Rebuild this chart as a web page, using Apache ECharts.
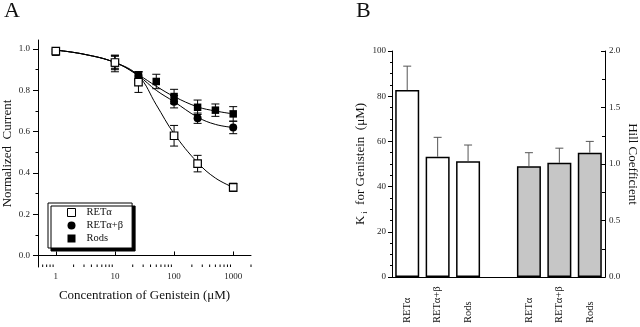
<!DOCTYPE html>
<html>
<head>
<meta charset="utf-8">
<script src="https://cdn.jsdelivr.net/npm/echarts@6/dist/echarts.min.js"></script>
<style>
  html, body { margin: 0; padding: 0; background: #fff; }
  #chart { width: 640px; height: 327px; }
</style>
</head>
<body>
<div id="chart"></div>
<script>
// ---------- Panel A: dose-response to genistein ----------
const retA_x   = [1, 10, 25, 100, 250, 1000];
const retA_y   = [0.99, 0.935, 0.84, 0.58, 0.445, 0.33];
const retA_err = [0.01, 0.035, 0.05, 0.05, 0.04, 0.02];

const retAB_x   = [1, 10, 25, 100, 250, 1000];
const retAB_y   = [0.99, 0.935, 0.87, 0.745, 0.665, 0.62];
const retAB_err = [0.01, 0.03, 0.02, 0.03, 0.025, 0.03];

const rods_x   = [1, 10, 25, 50, 100, 250, 500, 1000];
const rods_y   = [0.985, 0.93, 0.87, 0.843, 0.77, 0.718, 0.704, 0.686];
const rods_err = [0.01, 0.04, 0.02, 0.035, 0.035, 0.035, 0.03, 0.035];

// fitted Hill curves, sampled along the concentration axis
const fit_x     = [1, 3, 10, 25, 50, 100, 250, 500, 1000];
const fit_retA  = [0.995, 0.975, 0.935, 0.87, 0.73, 0.59, 0.45, 0.375, 0.33];
const fit_retAB = [0.995, 0.975, 0.935, 0.87, 0.80, 0.745, 0.67, 0.635, 0.62];
const fit_rods  = [0.995, 0.975, 0.935, 0.875, 0.82, 0.77, 0.72, 0.70, 0.686];

const concMinorTicks = [0.6, 0.7, 0.8, 0.9, 2, 3, 4, 5, 6, 7, 8, 9,
  20, 30, 40, 50, 60, 70, 80, 90, 200, 300, 400, 500, 600, 700, 800, 900, 2000];
const normTicks = [0, 0.2, 0.4, 0.6, 0.8, 1.0];
const normMinorTicks = [0.1, 0.3, 0.5, 0.7, 0.9];

// ---------- Panel B: Ki and Hill coefficients ----------
const groupLabels = ['RETα', 'RETα+β', 'Rods'];
const kiValues   = [82.7, 53.2, 51.2];
const kiErrors   = [10.6, 8.6, 7.2];
const hillValues = [0.98, 1.01, 1.10];
const hillErrors = [0.12, 0.13, 0.10];

const SERIF = '"Liberation Serif", "Times New Roman", serif';
const categories = groupLabels.concat(['']).concat(groupLabels);

function pairs(xs, ys) { return xs.map((x, i) => [x, ys[i]]); }
function triples(xs, ys, es) { return xs.map((x, i) => [x, ys[i], es[i]]); }

function lineEl(x1, y1, x2, y2, color, w) {
  return { type: 'line', shape: { x1, y1, x2, y2 }, style: { stroke: color, lineWidth: w } };
}

// symmetric error bars for the dose-response points
function errorBarA(params, api) {
  const x = api.value(0), y = api.value(1), e = api.value(2);
  const t = api.coord([x, y + e]), b = api.coord([x, y - e]);
  const h = 4;
  return { type: 'group', children: [
    lineEl(t[0], t[1], b[0], b[1], '#000', 1),
    lineEl(t[0] - h, t[1], t[0] + h, t[1], '#000', 1),
    lineEl(b[0] - h, b[1], b[0] + h, b[1], '#000', 1)
  ]};
}

// upward-only error bars for the bar panel
function errorBarB(params, api) {
  const x = api.value(0), y = api.value(1), e = api.value(2);
  const base = api.coord([x, y]), t = api.coord([x, y + e]);
  const h = 4;
  return { type: 'group', children: [
    lineEl(base[0], base[1], t[0], t[1], '#555', 1),
    lineEl(t[0] - h, t[1], t[0] + h, t[1], '#555', 1)
  ]};
}

// small minor tick marks on the logarithmic concentration axis
function logMinorTick(params, api) {
  const p = api.coord([api.value(0), -0.056]);
  return lineEl(p[0], p[1], p[0], p[1] - 2.5, '#000', 1);
}

const axisText = { fontFamily: SERIF, fontSize: 9, color: '#222' };
const nameText = { fontFamily: SERIF, fontSize: 13, color: '#111' };
const blackLine = { lineStyle: { color: '#000', width: 1 } };

const option = {
  animation: false,
  backgroundColor: '#fff',
  textStyle: { fontFamily: SERIF },
  graphic: [
    { type: 'text', left: 4, top: 0, style: { text: 'A', font: '22px ' + SERIF, fill: '#111' } },
    { type: 'text', left: 356, top: 0, style: { text: 'B', font: '22px ' + SERIF, fill: '#111' } }
  ],
  grid: [
    { left: 37, top: 40, width: 214, height: 227 },
    { left: 392, top: 51, width: 214, height: 226 }
  ],
  legend: {
    left: 48, top: 203,
    orient: 'vertical',
    itemWidth: 8, itemHeight: 8, itemGap: 2,
    padding: [4, 9, 4, 19],
    backgroundColor: '#fff',
    borderColor: '#000', borderWidth: 1,
    shadowColor: '#000', shadowOffsetX: 3, shadowOffsetY: 3, shadowBlur: 0,
    textStyle: { fontFamily: SERIF, fontSize: 10.5, color: '#111', padding: [0, 0, 0, 6] },
    data: [
      { name: 'RETα', icon: 'rect', itemStyle: { color: '#fff', borderColor: '#000', borderWidth: 1 } },
      { name: 'RETα+β', icon: 'circle' },
      { name: 'Rods', icon: 'rect' }
    ]
  },
  xAxis: [
    {
      type: 'log', logBase: 10, gridIndex: 0, min: 0.5, max: 2000,
      axisLine: blackLine,
      axisTick: { inside: true, length: 4, lineStyle: { color: '#000' } },
      axisLabel: Object.assign({ margin: 5, showMinLabel: false, showMaxLabel: false,
        formatter: v => String(Math.round(v)) }, axisText),
      splitLine: { show: false },
      name: 'Concentration of Genistein (μM)', nameLocation: 'middle', nameGap: 22,
      nameTextStyle: nameText
    },
    {
      type: 'category', gridIndex: 1, data: categories, position: 'bottom',
      axisLine: blackLine,
      axisTick: { show: false },
      axisLabel: { rotate: 90, align: 'left', margin: 46, interval: 0,
        fontFamily: SERIF, fontSize: 10.5, color: '#111' }
    },
    {
      type: 'category', gridIndex: 1, data: categories, position: 'top',
      axisLine: blackLine, axisTick: { show: false }, axisLabel: { show: false }
    }
  ],
  yAxis: [
    {
      type: 'value', gridIndex: 0, min: -0.056, max: 1.044,
      axisLine: Object.assign({ show: true }, blackLine),
      axisTick: { show: true, length: 5, customValues: normTicks, lineStyle: { color: '#000' } },
      axisLabel: Object.assign({ margin: 8, customValues: normTicks,
        formatter: v => v.toFixed(1) }, axisText),
      splitLine: { show: false },
      name: 'Normalized  Current', nameLocation: 'middle', nameGap: 24,
      nameTextStyle: nameText
    },
    {
      type: 'value', gridIndex: 0, min: -0.056, max: 1.044, position: 'left',
      axisLine: { show: false },
      axisTick: { show: true, length: 2.5, customValues: normMinorTicks, lineStyle: { color: '#000' } },
      axisLabel: { show: false },
      splitLine: { show: false }
    },
    {
      type: 'value', gridIndex: 1, min: 0, max: 100, interval: 20, position: 'left',
      axisLine: Object.assign({ show: true }, blackLine),
      axisTick: { show: true, length: 4, lineStyle: { color: '#000' } },
      minorTick: { show: true, splitNumber: 4, length: 2, lineStyle: { color: '#000' } },
      axisLabel: Object.assign({ margin: 6 }, axisText),
      splitLine: { show: false },
      name: '{k|K}{s| i}{k|  for Genistein  (μM)}', nameLocation: 'middle', nameGap: 20,
      nameTextStyle: {
        fontFamily: SERIF, fontSize: 13, color: '#111',
        rich: {
          k: { fontFamily: SERIF, fontSize: 13, color: '#111' },
          s: { fontFamily: SERIF, fontSize: 8, color: '#111', padding: [9, 0, 0, 0] }
        }
      }
    },
    {
      type: 'value', gridIndex: 1, min: 0, max: 2, interval: 0.5, position: 'right',
      axisLine: Object.assign({ show: true }, blackLine),
      axisTick: { show: true, inside: true, length: 4, lineStyle: { color: '#000' } },
      minorTick: { show: true, splitNumber: 2, length: 3, lineStyle: { color: '#000' } },
      axisLabel: Object.assign({ margin: 4, formatter: v => v.toFixed(1) }, axisText),
      splitLine: { show: false },
      name: 'Hill Coefficient', nameLocation: 'middle', nameGap: 21, nameRotate: -90,
      nameTextStyle: nameText
    }
  ],
  series: [
    // fitted curves
    { type: 'line', name: 'fitA', xAxisIndex: 0, yAxisIndex: 0, data: pairs(fit_x, fit_retA),
      smooth: 0.4, showSymbol: false, silent: true, lineStyle: { color: '#000', width: 1 }, z: 1 },
    { type: 'line', name: 'fitAB', xAxisIndex: 0, yAxisIndex: 0, data: pairs(fit_x, fit_retAB),
      smooth: 0.4, showSymbol: false, silent: true, lineStyle: { color: '#000', width: 1 }, z: 1 },
    { type: 'line', name: 'fitRods', xAxisIndex: 0, yAxisIndex: 0, data: pairs(fit_x, fit_rods),
      smooth: 0.4, showSymbol: false, silent: true, lineStyle: { color: '#000', width: 1 }, z: 1 },
    // error bars
    { type: 'custom', xAxisIndex: 0, yAxisIndex: 0, renderItem: errorBarA, silent: true, z: 2,
      data: triples(retA_x, retA_y, retA_err) },
    { type: 'custom', xAxisIndex: 0, yAxisIndex: 0, renderItem: errorBarA, silent: true, z: 2,
      data: triples(retAB_x, retAB_y, retAB_err) },
    { type: 'custom', xAxisIndex: 0, yAxisIndex: 0, renderItem: errorBarA, silent: true, z: 2,
      data: triples(rods_x, rods_y, rods_err) },
    // data points
    { type: 'scatter', name: 'RETα', xAxisIndex: 0, yAxisIndex: 0, symbol: 'rect', symbolSize: 7.5,
      itemStyle: { color: '#fff', borderColor: '#000', borderWidth: 1.2, opacity: 1 }, z: 5,
      data: pairs(retA_x, retA_y) },
    { type: 'scatter', name: 'RETα+β', xAxisIndex: 0, yAxisIndex: 0, symbol: 'circle', symbolSize: 8,
      itemStyle: { color: '#000', opacity: 1 }, z: 4,
      data: pairs(retAB_x, retAB_y) },
    { type: 'scatter', name: 'Rods', xAxisIndex: 0, yAxisIndex: 0, symbol: 'rect', symbolSize: 7.5,
      itemStyle: { color: '#000', opacity: 1 }, z: 3,
      data: pairs(rods_x, rods_y) },
    // minor ticks on the log axis
    { type: 'custom', xAxisIndex: 0, yAxisIndex: 0, renderItem: logMinorTick, silent: true, z: 2,
      data: concMinorTicks.map(v => [v, 0]) },
    // bars
    { type: 'bar', name: 'Ki', xAxisIndex: 1, yAxisIndex: 2, barWidth: 24, barGap: '-100%',
      itemStyle: { color: '#fff', borderColor: '#000', borderWidth: 1.5 },
      data: kiValues.concat(['-', '-', '-', '-']) },
    { type: 'bar', name: 'Hill', xAxisIndex: 1, yAxisIndex: 3, barWidth: 24, barGap: '-100%',
      itemStyle: { color: '#c6c6c6', borderColor: '#000', borderWidth: 1.5 },
      data: ['-', '-', '-', '-'].concat(hillValues) },
    { type: 'custom', xAxisIndex: 1, yAxisIndex: 2, renderItem: errorBarB, silent: true, z: 3,
      data: kiValues.map((v, i) => [i, v, kiErrors[i]]) },
    { type: 'custom', xAxisIndex: 1, yAxisIndex: 3, renderItem: errorBarB, silent: true, z: 3,
      data: hillValues.map((v, i) => [i + 4, v, hillErrors[i]]) }
  ]
};

const chart = echarts.init(document.getElementById('chart'), null, { renderer: 'canvas' });
chart.setOption(option);
</script>
</body>
</html>
